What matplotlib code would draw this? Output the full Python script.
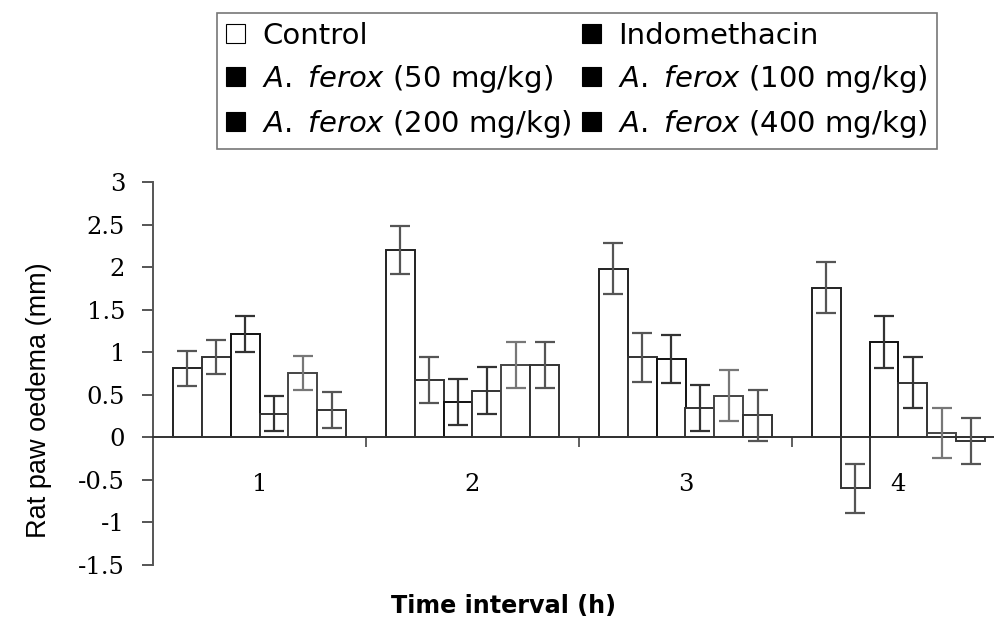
import matplotlib
matplotlib.use("Agg")
import matplotlib.pyplot as plt
from matplotlib.patches import Patch
import numpy as np

plt.rcParams['axes.unicode_minus'] = False
plt.rcParams['mathtext.fontset'] = 'dejavusans'

# ---- data ----
time_points = ["1", "2", "3", "4"]
series_names = ["Control", "Indomethacin",
                r"$\mathit{A.\ ferox}$ (50 mg/kg)", r"$\mathit{A.\ ferox}$ (100 mg/kg)",
                r"$\mathit{A.\ ferox}$ (200 mg/kg)", r"$\mathit{A.\ ferox}$ (400 mg/kg)"]
control      = [0.81, 2.20, 1.98, 1.76]
indomethacin = [0.94, 0.67, 0.94, -0.60]
ferox_50     = [1.21, 0.42, 0.92, 1.12]
ferox_100    = [0.28, 0.55, 0.34, 0.64]
ferox_200    = [0.76, 0.85, 0.49, 0.05]
ferox_400    = [0.32, 0.85, 0.26, -0.04]
err_control      = [0.21, 0.28, 0.30, 0.30]
err_indomethacin = [0.20, 0.27, 0.29, 0.29]
err_ferox_50     = [0.21, 0.27, 0.28, 0.30]
err_ferox_100    = [0.21, 0.28, 0.27, 0.30]
err_ferox_200    = [0.20, 0.27, 0.30, 0.29]
err_ferox_400    = [0.21, 0.27, 0.30, 0.27]
yticks = [-1.5, -1, -0.5, 0, 0.5, 1, 1.5, 2, 2.5, 3]
ytick_labels = ["-1.5", "-1", "-0.5", "0", "0.5", "1", "1.5", "2", "2.5", "3"]

values = [control, indomethacin, ferox_50, ferox_100, ferox_200, ferox_400]
errors = [err_control, err_indomethacin, err_ferox_50, err_ferox_100, err_ferox_200, err_ferox_400]

# ---- styles ----
edge_colors = ['#222222', '#333333', '#111111', '#333333', '#444444', '#333333']
err_colors = ['#555555', '#555555', '#333333', '#333333', '#777777', '#555555']
legend_face = ['white', 'black', 'black', 'black', 'black', 'black']

fig = plt.figure(figsize=(9.95, 6.24), dpi=100)
ax = fig.add_axes([153/995, (624-565)/624, 852/995, 383/624])

x = np.arange(1, len(time_points) + 1)
bw = 0.136
n = len(values)
for i, (v, e) in enumerate(zip(values, errors)):
    pos = x + (i - (n - 1) / 2) * bw
    ax.bar(pos, v, width=bw, color='white', edgecolor=edge_colors[i], linewidth=1.4, zorder=2)
    ax.errorbar(pos, v, yerr=e, fmt='none', ecolor=err_colors[i], elinewidth=1.6,
                capsize=7, capthick=1.6, zorder=3)

ax.set_xlim(0.5, 4.5)
ax.set_ylim(-1.5, 3)

# spines
ax.spines['top'].set_visible(False)
ax.spines['right'].set_visible(False)
ax.spines['bottom'].set_position(('data', 0))
ax.spines['bottom'].set_color('#333333')
ax.spines['bottom'].set_linewidth(1.4)
ax.spines['left'].set_color('#555555')
ax.spines['left'].set_linewidth(1.4)

# y ticks
ax.set_yticks(yticks)
ax.set_yticklabels(ytick_labels, fontfamily='DejaVu Serif', fontsize=17.5)
ax.tick_params(axis='y', direction='out', length=8, width=1.4, color='#555555', pad=12)

# x ticks: boundaries (major) and labels at centres (minor)
ax.set_xticks([1.5, 2.5, 3.5])
ax.set_xticklabels([])
ax.tick_params(axis='x', which='major', direction='out', length=7, width=1.2, color='#444444')
ax.set_xticks(x, minor=True)
ax.set_xticklabels(time_points, minor=True, fontfamily='DejaVu Serif', fontsize=17.5)
ax.tick_params(axis='x', which='minor', length=0, pad=26)

ax.set_ylabel("Rat paw oedema (mm)", fontfamily='Liberation Sans', fontsize=19.5)
ax.yaxis.set_label_coords(-0.1185, 0.43)
fig.text(504/995, 1 - 606/624, "Time interval (h)", fontfamily='DejaVu Sans', fontweight='bold',
         fontsize=17.2, ha='center', va='center')

order = [0, 2, 4, 1, 3, 5]   # legend fills column-wise; reorder to read row-wise
handles = [Patch(facecolor=legend_face[i], edgecolor='black', linewidth=0.8) for i in range(n)]
leg = fig.legend([handles[i] for i in order], [series_names[i] for i in order],
                 loc='upper left', bbox_to_anchor=(217/995, 1 - 13/624),
                 ncol=2, frameon=True, fancybox=False, prop={'family': 'DejaVu Sans', 'size': 21},
                 handlelength=0.65, handleheight=0.6, handletextpad=0.6, labelspacing=0.45,
                 columnspacing=0.35, borderpad=0.3, borderaxespad=0)
leg.get_frame().set_edgecolor('#555555')
leg.get_frame().set_linewidth(1.2)

fig.savefig("out.png", dpi=100)
